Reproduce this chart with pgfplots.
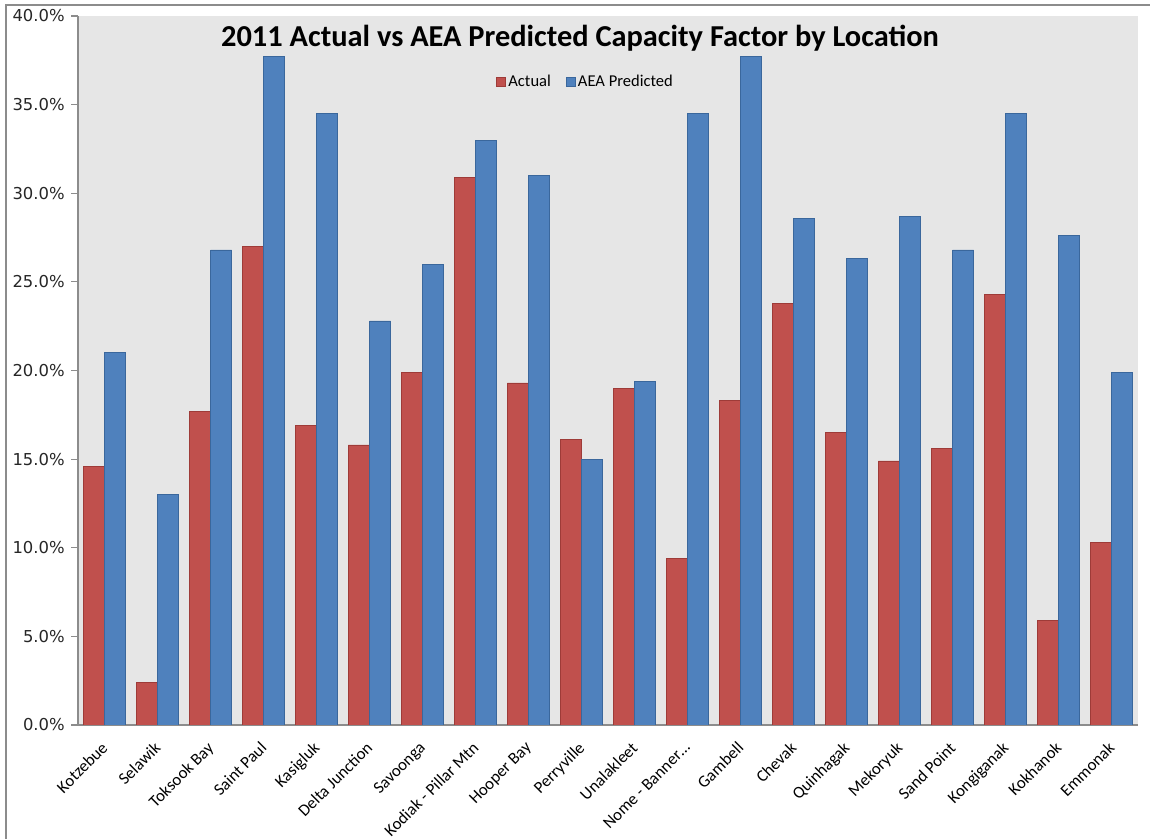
\documentclass[border=0pt]{standalone}
\usepackage{pgfplots}
\pgfplotsset{compat=1.18}
\usepackage{fontspec}
\setmainfont{Carlito}
\newfontfamily\dejavu{DejaVu Sans}
\definecolor{actfill}{HTML}{C0504D}
\definecolor{actdraw}{HTML}{9E3B38}
\definecolor{prefill}{HTML}{4F81BD}
\definecolor{predraw}{HTML}{3A679C}
\definecolor{plotbg}{HTML}{E6E6E6}
\definecolor{axisgray}{HTML}{8C8C8C}
\definecolor{ticktext}{HTML}{262626}
\begin{document}
\begin{tikzpicture}
\useasboundingbox (0,0) rectangle (862.5pt,629.25pt);
\draw[color=axisgray, line width=1.1pt] (4.5pt,-2pt) -- (4.5pt,625.5pt) -- (866pt,625.5pt);
\begin{axis}[
  at={(58.5pt,85.5pt)}, anchor=south west,
  width=795pt, height=531.75pt, scale only axis,
  xmin=-0.5, xmax=19.5, ymin=0, ymax=40,
  ybar=0pt, bar width=15.9pt,
  axis background/.style={fill=plotbg},
  axis x line*=bottom, axis y line*=left,
  axis line style={draw=axisgray, line width=0.8pt},
  xtick={0,...,19},
  xticklabels={Kotzebue,Selawik,Toksook Bay,Saint Paul,Kasigluk,Delta Junction,Savoonga,Kodiak - Pillar Mtn,Hooper Bay,Perryville,Unalakleet,Nome - Banner\ldots,Gambell,Chevak,Quinhagak,Mekoryuk,Sand Point,Kongiganak,Kokhanok,Emmonak},
  xticklabel style={rotate=45, anchor=north east, font=\fontsize{12.6}{14}\selectfont, inner xsep=7pt, inner ysep=2.5pt},
  x tick style={draw=none},
  ytick={0,5,10,15,20,25,30,35,40},
  yticklabels={0.0\%,5.0\%,10.0\%,15.0\%,20.0\%,25.0\%,30.0\%,35.0\%,40.0\%},
  every y tick label/.append style={font=\dejavu\fontsize{12.3}{14}\selectfont, color=ticktext, inner xsep=4.8pt},
  y tick style={draw=axisgray, line width=0.8pt},
  tick align=outside, major tick length=5pt,
  legend style={at={(0.479,0.907)}, anchor=center, draw=none, fill=none, legend columns=2, font=\fontsize{12.4}{14}\selectfont, /tikz/every even column/.append style={column sep=9pt}},
  legend image code/.code={\draw[#1] (0pt,-3.4pt) rectangle (6.8pt,3.4pt);},
]
\addplot[fill=actfill, draw=actdraw, line width=0.5pt] coordinates {
(0,14.6) (1,2.4) (2,17.7) (3,27.0) (4,16.9) (5,15.8) (6,19.9) (7,30.9) (8,19.3) (9,16.1)
(10,19.0) (11,9.4) (12,18.3) (13,23.8) (14,16.5) (15,14.9) (16,15.6) (17,24.3) (18,5.9) (19,10.3)};
\addplot[fill=prefill, draw=predraw, line width=0.5pt] coordinates {
(0,21.0) (1,13.0) (2,26.8) (3,37.7) (4,34.5) (5,22.8) (6,26.0) (7,33.0) (8,31.0) (9,15.0)
(10,19.4) (11,34.5) (12,37.7) (13,28.6) (14,26.3) (15,28.7) (16,26.8) (17,34.5) (18,27.6) (19,19.9)};
\legend{Actual,AEA Predicted}
\node[font=\bfseries\fontsize{22.8}{26}\selectfont, anchor=center] at (rel axis cs:0.4736,0.969) {2011 Actual vs AEA Predicted Capacity Factor by Location};
\end{axis}
\end{tikzpicture}
\end{document}
